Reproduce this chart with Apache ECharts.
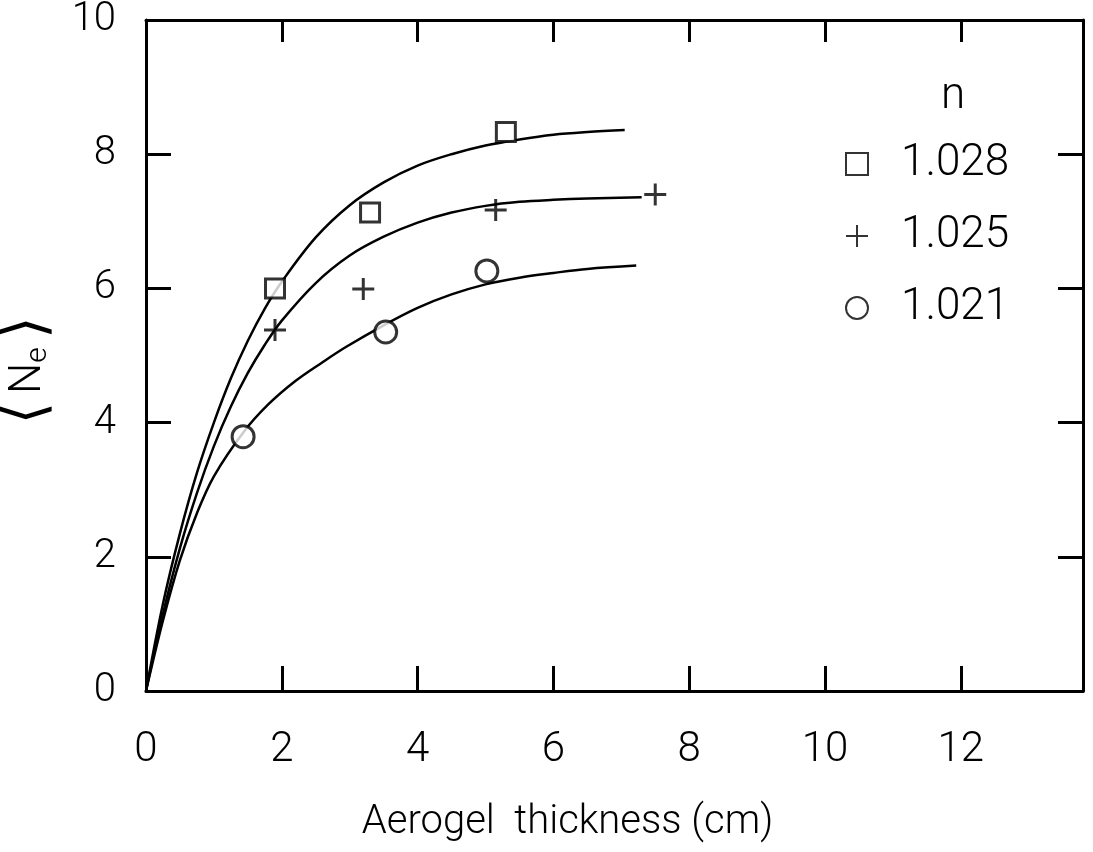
<!DOCTYPE html>
<html>
<head>
<meta charset="utf-8">
<script src="https://cdn.jsdelivr.net/npm/echarts@6/dist/echarts.min.js"></script>
<style>
  html, body { margin: 0; padding: 0; background: #fff; }
  #chart { width: 1093px; height: 852px; }
</style>
</head>
<body>
<div id="chart"></div>
<script>
// fitted curves, [thickness cm, <Ne>]
const curve1028 = [[0,0],[0.25,1.3],[0.5,2.35],[0.75,3.25],[1,4.0],[1.25,4.66],[1.5,5.22],[1.75,5.7],[2,6.1],[2.5,6.76],[3,7.24],[3.5,7.58],[4,7.83],[4.5,8.0],[5,8.13],[5.5,8.22],[6,8.29],[6.5,8.33],[7.05,8.36]];
const curve1025 = [[0,0],[0.25,1.15],[0.5,2.13],[0.75,2.95],[1,3.65],[1.25,4.24],[1.5,4.74],[1.75,5.16],[2,5.52],[2.5,6.08],[3,6.49],[3.5,6.77],[4,6.98],[4.5,7.13],[5,7.23],[5.5,7.29],[6,7.32],[6.5,7.34],[7.3,7.36]];
const curve1021 = [[0,0],[0.25,1.05],[0.5,1.95],[0.75,2.65],[1,3.2],[1.43,3.85],[1.8,4.27],[2.2,4.62],[2.6,4.9],[2.95,5.13],[3.5,5.45],[4,5.71],[4.5,5.91],[5,6.06],[5.5,6.16],[6,6.23],[6.5,6.29],[7.22,6.34]];

// measured points
const pts1028 = [[1.9,6.0],[3.3,7.13],[5.3,8.33]];
const pts1025 = [[1.9,5.38],[3.2,5.99],[5.15,7.17],[7.5,7.4]];
const pts1021 = [[1.43,3.79],[3.53,5.35],[5.02,6.26]];

const indexNames = ['1.028', '1.025', '1.021'];
const xTicks = [0, 2, 4, 6, 8, 10, 12];
const yTicks = [0, 2, 4, 6, 8, 10];

const FONT = 'Roboto';
const plusPath = 'path://M10,0V20M0,10H20';

const chart = echarts.init(document.getElementById('chart'));

const axisLine = { show: true, onZero: false, lineStyle: { color: '#000', width: 3 } };
const tickIn = (len) => ({ show: true, inside: true, length: len, lineStyle: { color: '#000', width: 3 } });

const curveSeries = (data) => ({
  type: 'line',
  data: data,
  smooth: 0.35,
  showSymbol: false,
  silent: true,
  lineStyle: { color: '#000', width: 2.5 },
  z: 2
});

const option = {
  backgroundColor: '#fff',
  animation: false,
  textStyle: { fontFamily: FONT },
  title: {
    text: 'n',
    left: 936,
    top: 70,
    textStyle: { fontFamily: FONT, fontWeight: 300, fontSize: 44, color: '#000' }
  },
  legend: {
    data: indexNames,
    orient: 'vertical',
    left: 840,
    top: 137,
    itemGap: 28,
    itemWidth: 22,
    itemHeight: 22,
    textStyle: { fontFamily: FONT, fontWeight: 300, fontSize: 44, color: '#000', padding: [0, 0, 0, 28] },
    selectedMode: false
  },
  grid: { left: 146, right: 10, top: 20, bottom: 161, outerBoundsMode: 'none' },
  xAxis: [
    {
      type: 'value',
      position: 'bottom',
      min: 0,
      max: 13.8,
      interval: 2,
      axisLine: axisLine,
      axisTick: tickIn(25),
      splitLine: { show: false },
      axisLabel: {
        fontFamily: FONT, fontWeight: 300, fontSize: 42, color: '#000', margin: 38,
        showMaxLabel: false,
        formatter: (v) => (xTicks.includes(v) ? String(v) : '')
      },
      name: 'Aerogel  thickness (cm)',
      nameLocation: 'middle',
      nameGap: 112,
      nameTextStyle: { fontFamily: FONT, fontWeight: 300, fontSize: 40, color: '#000', padding: [0, 94, 0, 0] }
    },
    {
      type: 'value',
      position: 'top',
      min: 0,
      max: 13.8,
      interval: 2,
      axisLine: axisLine,
      axisTick: tickIn(22),
      axisLabel: { show: false },
      splitLine: { show: false }
    }
  ],
  yAxis: [
    {
      type: 'value',
      position: 'left',
      min: 0,
      max: 10,
      interval: 2,
      axisLine: axisLine,
      axisTick: tickIn(25),
      splitLine: { show: false },
      axisLabel: {
        fontFamily: FONT, fontWeight: 300, fontSize: 40, color: '#000', margin: 30,
        formatter: (v) => (yTicks.includes(v) ? String(v) : '')
      },
      name: '{b|⟨}{n|N}{e|e}{b|⟩}',
      nameLocation: 'middle',
      nameRotate: 90,
      nameGap: 88,
      nameTextStyle: {
        padding: [0, 30, 0, 0],
        rich: {
          b: { fontFamily: 'DejaVu Sans', fontSize: 58, color: '#000', padding: [0, 8, 0, 8] },
          n: { fontFamily: FONT, fontWeight: 300, fontSize: 44, color: '#000' },
          e: { fontFamily: FONT, fontWeight: 300, fontSize: 30, color: '#000', padding: [18, 0, 0, 0] }
        }
      }
    },
    {
      type: 'value',
      position: 'right',
      min: 0,
      max: 10,
      interval: 2,
      axisLine: axisLine,
      axisTick: tickIn(25),
      axisLabel: { show: false },
      splitLine: { show: false }
    }
  ],
  series: [
    curveSeries(curve1028),
    curveSeries(curve1025),
    curveSeries(curve1021),
    {
      name: indexNames[0],
      type: 'scatter',
      data: pts1028,
      symbol: 'rect',
      symbolSize: 19,
      itemStyle: { color: '#fff', borderColor: '#000', borderWidth: 3 },
      z: 3
    },
    {
      name: indexNames[1],
      type: 'scatter',
      data: pts1025,
      symbol: plusPath,
      symbolSize: 22,
      itemStyle: { color: 'transparent', borderColor: '#000', borderWidth: 3 },
      z: 3
    },
    {
      name: indexNames[2],
      type: 'scatter',
      data: pts1021,
      symbol: 'circle',
      symbolSize: 22,
      itemStyle: { color: '#fff', borderColor: '#000', borderWidth: 3 },
      z: 3
    }
  ]
};

chart.setOption(option);
window.addEventListener('resize', () => chart.resize());
</script>
</body>
</html>
